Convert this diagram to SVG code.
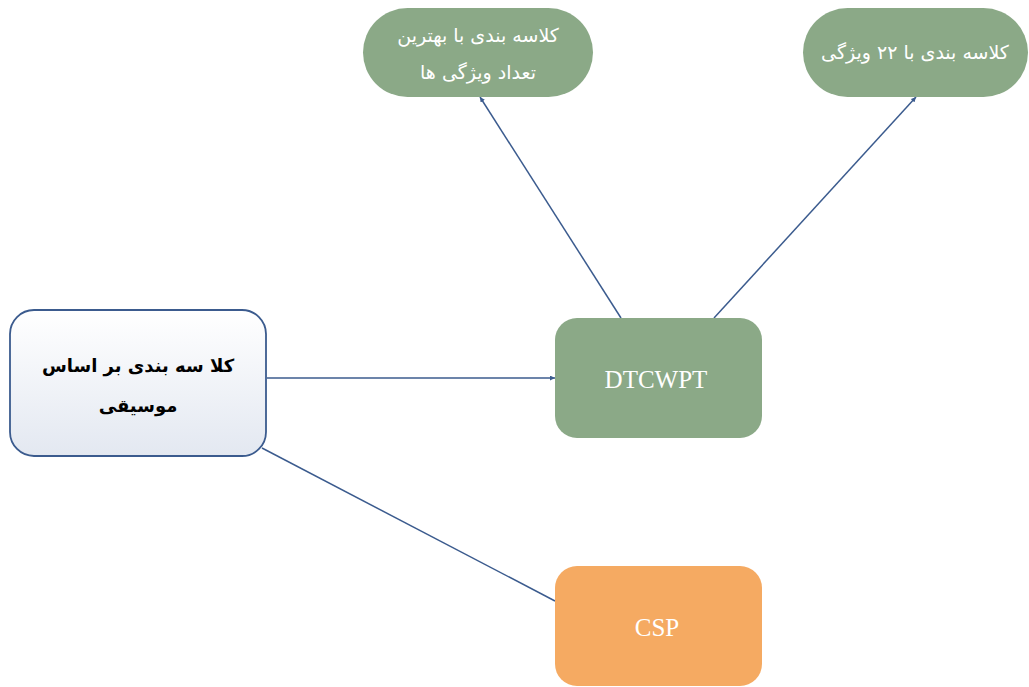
<svg xmlns="http://www.w3.org/2000/svg" width="1029" height="687" viewBox="0 0 1029 687">
<style>
.green{fill:#8BA987;}
.orange{fill:#F5AA62;}
.fa{font-family:"DejaVu Sans","Noto Sans",sans-serif;direction:rtl;text-anchor:middle;}
.wt{fill:#FFFFFF;font-size:19px;}
.bt{fill:#000000;font-size:18px;font-weight:bold;}
.lat{font-family:"Liberation Serif",serif;fill:#FFFFFF;font-size:25px;text-anchor:middle;}
.conn{stroke:#3B5B8E;stroke-width:1.5;fill:none;}
</style>
<defs>
<linearGradient id="lg" x1="0" y1="0" x2="0" y2="1">
<stop offset="0" stop-color="#FFFFFF"/>
<stop offset="1" stop-color="#E3E8F1"/>
</linearGradient>
<marker id="ah" viewBox="0 0 10 10" refX="10" refY="5" markerWidth="5" markerHeight="5" orient="auto" markerUnits="userSpaceOnUse">
<path d="M0,0 L10,5 L0,10 z" fill="#3B5B8E"/>
</marker>
</defs>
<g id="connectors">
<line class="conn" x1="267" y1="378" x2="555" y2="378" marker-end="url(#ah)"/>
<line class="conn" x1="262" y1="448" x2="555" y2="601"/>
<line class="conn" x1="621" y1="318" x2="480" y2="97" marker-end="url(#ah)"/>
<line class="conn" x1="714" y1="318" x2="916" y2="97" marker-end="url(#ah)"/>
</g>
<g id="node-music">
<rect x="10" y="310" width="256" height="146" rx="24" fill="url(#lg)" stroke="#3B5B8E" stroke-width="1.8"/>
<text class="fa bt" x="138" y="372">کلا سه بندی بر اساس</text>
<text class="fa bt" x="138" y="412">موسیقی</text>
</g>
<g id="node-dtcwpt">
<rect class="green" x="555" y="318" width="207" height="120" rx="22"/>
<text class="lat" x="656" y="388">DTCWPT</text>
</g>
<g id="node-csp">
<rect class="orange" x="555" y="566" width="207" height="120" rx="22"/>
<text class="lat" x="657" y="636">CSP</text>
</g>
<g id="node-best">
<rect class="green" x="363" y="8" width="230" height="89" rx="44.5"/>
<text class="fa wt" x="478" y="42">کلاسه بندی با بهترین</text>
<text class="fa wt" x="478" y="79">تعداد ویژگی ها</text>
</g>
<g id="node-22">
<rect class="green" x="803" y="8" width="225" height="89" rx="44.5"/>
<text class="fa wt" x="915" y="59">کلاسه بندی با ۲۲ ویژگی</text>
</g>
</svg>
